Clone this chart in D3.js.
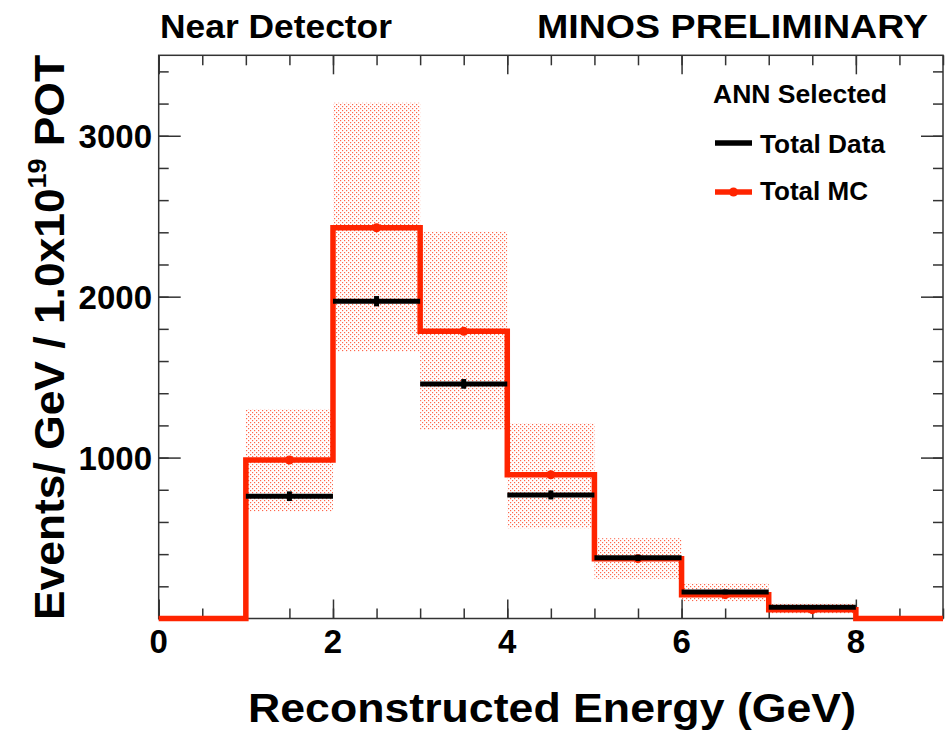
<!DOCTYPE html>
<html>
<head>
<meta charset="utf-8">
<script src="https://cdn.jsdelivr.net/npm/d3@7"></script>
<style>
  html, body { margin: 0; padding: 0; background: #fff; }
  svg { display: block; }
  text { font-family: "Liberation Sans", Arial, Helvetica, sans-serif; font-weight: bold; fill: #000; }
</style>
</head>
<body>
<svg id="chart" width="948" height="731"></svg>
<script>
// ---- data ----
const binEdges = [0, 1, 2, 3, 4, 5, 6, 7, 8, 9];
const mcValues = [0, 985, 2428, 1785, 893, 372, 148, 55, 0];
const bandHigh = [null, 1302, 3205, 2404, 1214, 499, 220, 95, null];
const bandLow  = [null, 665, 1658, 1172, 561, 247, 106, 30, null];
const dataValues = [null, 760, 1972, 1458, 768, 377, 165, 70, null];
const dataErrors = [null, 30, 32, 30, 28, 20, 15, 12, null];
const xTickLabels = [0, 2, 4, 6, 8];
const yTickLabels = [1000, 2000, 3000];
const legendTitle = "ANN Selected";
const legendItems = ["Total Data", "Total MC"];

const RED = "#ff2400";
const svg = d3.select("#chart");
const L = 158.7, R = 943, T = 55.3, B = 618.5;
const x = d3.scaleLinear().domain([0, 9]).range([L, R]);
const y = d3.scaleLinear().domain([0, 3500]).range([B, T]);

// pattern for MC error band
const defs = svg.append("defs");
const pat = defs.append("pattern").attr("id", "dots").attr("patternUnits", "userSpaceOnUse")
  .attr("width", 4).attr("height", 4);
pat.append("rect").attr("x", 0).attr("y", 0).attr("width", 1.2).attr("height", 1.2).attr("fill", RED);
pat.append("rect").attr("x", 2).attr("y", 2).attr("width", 1.2).attr("height", 1.2).attr("fill", RED);

const bins = mcValues.map((v, i) => ({ x0: binEdges[i], x1: binEdges[i + 1], mc: v, hi: bandHigh[i], lo: bandLow[i], d: dataValues[i], e: dataErrors[i] }));

// error band
svg.append("g").selectAll("rect").data(bins.filter(b => b.hi != null)).join("rect")
  .attr("x", b => x(b.x0)).attr("width", b => x(b.x1) - x(b.x0))
  .attr("y", b => y(b.hi)).attr("height", b => y(b.lo) - y(b.hi))
  .attr("fill", "url(#dots)").attr("opacity", 0.7);

// axes (ticks inward on all four sides)
const axisColor = "#333";
function styleAxis(g) {
  g.select(".domain").remove();
  g.selectAll(".tick line").attr("stroke", axisColor).attr("stroke-width", 1.5);
}
const xMajor = d3.range(0, 9.01, 2), xMinor = d3.range(0, 9.01, 0.5);
const yMajor = d3.range(0, 3501, 1000), yMinor = d3.range(0, 3501, 200);

svg.append("g").attr("transform", `translate(0,${B})`)
  .call(d3.axisBottom(x).tickValues(xMinor).tickSize(-10).tickFormat("")).call(styleAxis);
svg.append("g").attr("transform", `translate(0,${B})`)
  .call(d3.axisBottom(x).tickValues(xMajor).tickSize(-19).tickFormat("")).call(styleAxis);
svg.append("g").attr("transform", `translate(0,${T})`)
  .call(d3.axisTop(x).tickValues(xMinor).tickSize(-10).tickFormat("")).call(styleAxis);
svg.append("g").attr("transform", `translate(0,${T})`)
  .call(d3.axisTop(x).tickValues(xMajor).tickSize(-19).tickFormat("")).call(styleAxis);
svg.append("g").attr("transform", `translate(${L},0)`)
  .call(d3.axisLeft(y).tickValues(yMinor).tickSize(-10).tickFormat("")).call(styleAxis);
svg.append("g").attr("transform", `translate(${L},0)`)
  .call(d3.axisLeft(y).tickValues(yMajor).tickSize(-22).tickFormat("")).call(styleAxis);
svg.append("g").attr("transform", `translate(${R},0)`)
  .call(d3.axisRight(y).tickValues(yMinor).tickSize(-10).tickFormat("")).call(styleAxis);
svg.append("g").attr("transform", `translate(${R},0)`)
  .call(d3.axisRight(y).tickValues(yMajor).tickSize(-22).tickFormat("")).call(styleAxis);

svg.append("rect").attr("x", L).attr("y", T).attr("width", R - L).attr("height", B - T)
  .attr("fill", "none").attr("stroke", axisColor).attr("stroke-width", 1.5);

// tick labels
svg.append("g").selectAll("text").data(xTickLabels).join("text")
  .attr("x", d => x(d)).attr("y", 653).attr("text-anchor", "middle")
  .attr("font-size", 33).text(d => d);
svg.append("g").selectAll("text").data(yTickLabels).join("text")
  .attr("x", 152).attr("y", d => y(d) + 12).attr("text-anchor", "end")
  .attr("font-size", 33).text(d => d);

// MC step line
const stepPts = bins.map(b => [b.x0, b.mc]).concat([[9, 0]]);
svg.append("path")
  .attr("d", d3.line().x(d => x(d[0])).y(d => y(d[1])).curve(d3.curveStepAfter)(stepPts))
  .attr("fill", "none").attr("stroke", RED).attr("stroke-width", 5.5);

// MC markers
svg.append("g").selectAll("circle").data(bins.filter(b => b.mc > 0)).join("circle")
  .attr("cx", b => x((b.x0 + b.x1) / 2)).attr("cy", b => y(b.mc)).attr("r", 4.5).attr("fill", RED);

// data
const dataBins = bins.filter(b => b.d != null);
svg.append("g").selectAll("line").data(dataBins).join("line")
  .attr("x1", b => x(b.x0)).attr("x2", b => x(b.x1))
  .attr("y1", b => y(b.d)).attr("y2", b => y(b.d))
  .attr("stroke", "#000").attr("stroke-width", 5);
svg.append("g").selectAll("line").data(dataBins).join("line")
  .attr("x1", b => x((b.x0 + b.x1) / 2)).attr("x2", b => x((b.x0 + b.x1) / 2))
  .attr("y1", b => y(b.d - b.e)).attr("y2", b => y(b.d + b.e))
  .attr("stroke", "#000").attr("stroke-width", 5);

// legend
svg.append("text").attr("x", 713).attr("y", 103).attr("font-size", 25)
  .attr("textLength", 174).attr("lengthAdjust", "spacingAndGlyphs").text(legendTitle);
const legY = [143, 192];
svg.append("line").attr("x1", 715).attr("x2", 752).attr("y1", legY[0]).attr("y2", legY[0])
  .attr("stroke", "#000").attr("stroke-width", 5.5);
svg.append("line").attr("x1", 715).attr("x2", 752).attr("y1", legY[1]).attr("y2", legY[1])
  .attr("stroke", RED).attr("stroke-width", 5.5);
svg.append("circle").attr("cx", 733.5).attr("cy", legY[1]).attr("r", 4.5).attr("fill", RED);
svg.append("text").attr("x", 760).attr("y", 153).attr("font-size", 26)
  .attr("textLength", 125).attr("lengthAdjust", "spacingAndGlyphs").text(legendItems[0]);
svg.append("text").attr("x", 760).attr("y", 200).attr("font-size", 26)
  .attr("textLength", 108).attr("lengthAdjust", "spacingAndGlyphs").text(legendItems[1]);

// titles
svg.append("text").attr("x", 160).attr("y", 38).attr("font-size", 34)
  .attr("textLength", 232).attr("lengthAdjust", "spacingAndGlyphs").text("Near Detector");
svg.append("text").attr("x", 537).attr("y", 38).attr("font-size", 34)
  .attr("textLength", 391).attr("lengthAdjust", "spacingAndGlyphs").text("MINOS PRELIMINARY");
svg.append("text").attr("x", 248).attr("y", 722).attr("font-size", 41)
  .attr("textLength", 608).attr("lengthAdjust", "spacingAndGlyphs").text("Reconstructed Energy (GeV)");

const yt = svg.append("text").attr("transform", "translate(64,620) rotate(-90)")
  .attr("font-size", 43).attr("textLength", 565).attr("lengthAdjust", "spacingAndGlyphs");
yt.append("tspan").text("Events/ GeV / 1.0x10");
yt.append("tspan").attr("font-size", 26).attr("dy", -18).text("19");
yt.append("tspan").attr("dy", 18).text(" POT");
</script>
</body>
</html>
